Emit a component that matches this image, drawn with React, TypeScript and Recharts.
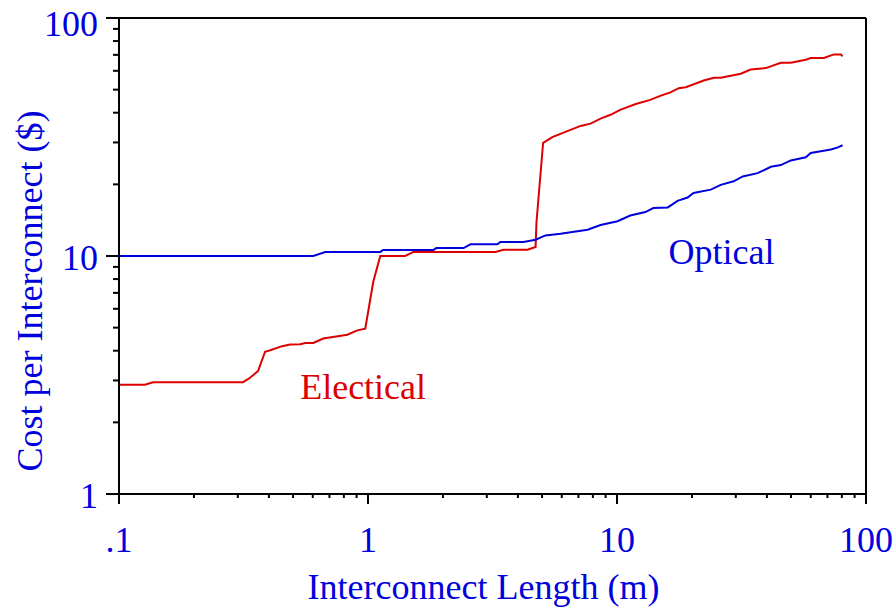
import React from 'react';
import { LineChart, Line, XAxis, YAxis, ReferenceLine, ReferenceDot, Label } from 'recharts';

// Axis ticks (log-log)
const xMajorTicks = [0.1, 1, 10, 100];
const xTickLabels = ['.1', '1', '10', '100'];
const xMinorTicks = [0.2, 0.3, 0.4, 0.5, 0.6, 0.7, 0.8, 0.9, 2, 3, 4, 5, 6, 7, 8, 9, 20, 30, 40, 50, 60, 70, 80, 90];
const yMajorTicks = [1, 10, 100];
const yTickLabels = ['1', '10', '100'];
const yMinorTicks = [2, 3, 4, 5, 6, 7, 8, 9, 20, 30, 40, 50, 60, 70, 80, 90];

// Electrical interconnect: length (m) and cost ($)
const electricalLength = [
  0.1, 0.127, 0.137, 0.315, 0.336, 0.362, 0.386, 0.405, 0.452, 0.487, 0.534, 0.56, 0.603, 0.661, 0.826,
  0.906, 0.975, 1.05, 1.12, 1.41, 1.52, 3.25, 3.5, 4.37, 4.71, 4.75, 5.05, 5.5, 6.1, 7.14, 7.83, 8.59,
  9.42, 10.3, 11.9, 13.6, 15.0, 16.4, 17.7, 18.9, 22.3, 24.5, 26.1, 31.4, 34.4, 39.6, 45.5, 49.9, 57.3,
  60.0, 67.8, 74.3, 79.3, 80.5,
];
const electricalCost = [
  2.88, 2.88, 2.95, 2.95, 3.08, 3.29, 3.96, 4.02, 4.18, 4.25, 4.26, 4.31, 4.31, 4.5, 4.67,
  4.87, 4.95, 7.79, 10.0, 10.0, 10.4, 10.4, 10.63, 10.63, 10.92, 13.9, 29.9, 31.6, 33.0, 35.2, 36.0, 37.8,
  39.2, 41.1, 43.5, 45.3, 47.2, 48.7, 50.7, 51.2, 54.6, 56.1, 56.1, 58.3, 60.7, 61.6, 64.9, 64.9, 66.8,
  67.9, 67.9, 70.3, 70.3, 69.0,
];

// Optical interconnect: length (m) and cost ($)
const opticalLength = [
  0.1, 0.603, 0.674, 1.12, 1.15, 1.83, 1.88, 2.42, 2.58, 3.31, 3.4, 4.21, 4.71, 5.16, 5.93, 7.62, 8.59,
  10.05, 11.3, 13.0, 14.0, 16.0, 17.5, 19.2, 20.3, 23.8, 26.1, 29.4, 32.0, 36.7, 41.5, 45.5, 49.9, 57.3,
  60.0, 72.3, 77.1, 80.5,
];
const opticalCost = [
  10.0, 10.0, 10.4, 10.4, 10.6, 10.6, 10.8, 10.8, 11.2, 11.2, 11.46, 11.46, 11.7, 12.2, 12.4, 12.9, 13.5,
  14.0, 14.8, 15.3, 15.9, 16.0, 17.05, 17.6, 18.4, 19.0, 19.9, 20.6, 21.6, 22.3, 23.7, 24.1, 25.2, 26.0,
  27.1, 28.0, 28.6, 29.2,
];

const electricalData = electricalLength.map((length, i) => ({ length, cost: electricalCost[i] }));
const opticalData = opticalLength.map((length, i) => ({ length, cost: opticalCost[i] }));

const RED = '#DD0000';
const BLUE = '#0000DD';
const FONT = '"Liberation Serif", "Times New Roman", serif';

const XTick = (props: any) => {
  const { x, y, payload } = props;
  const idx = xMajorTicks.indexOf(payload.value);
  const major = idx >= 0;
  return (
    <g>
      <line x1={x} y1={y} x2={x} y2={y + (major ? 10 : 4)} stroke="#000" strokeWidth={2} />
      {major && (
        <text x={x} y={y + 58} textAnchor="middle" fill={BLUE} fontSize={36} fontFamily={FONT}>
          {xTickLabels[idx]}
        </text>
      )}
    </g>
  );
};

const YTick = (props: any) => {
  const { x, y, payload } = props;
  const idx = yMajorTicks.indexOf(payload.value);
  const major = idx >= 0;
  return (
    <g>
      <line x1={x} y1={y} x2={x - (major ? 13 : 6)} y2={y} stroke="#000" strokeWidth={2} />
      {major && (
        <text
          x={x - 21}
          y={y + (payload.value === 100 ? 18 : 14)}
          textAnchor="end"
          fill={BLUE}
          fontSize={36}
          fontFamily={FONT}
        >
          {yTickLabels[idx]}
        </text>
      )}
    </g>
  );
};

const XTitle = (props: any) => {
  const { viewBox } = props;
  return (
    <text
      x={viewBox.x + viewBox.width / 2 - 9}
      y={viewBox.y + 105}
      textAnchor="middle"
      fill={BLUE}
      fontSize={36}
      fontFamily={FONT}
    >
      Interconnect Length (m)
    </text>
  );
};

const YTitle = (props: any) => {
  const { viewBox } = props;
  const cx = viewBox.x + 42;
  const cy = viewBox.y + viewBox.height / 2 + 35;
  return (
    <text
      x={cx}
      y={cy}
      transform={`rotate(-90, ${cx}, ${cy})`}
      textAnchor="middle"
      fill={BLUE}
      fontSize={36}
      fontFamily={FONT}
    >
      Cost per Interconnect ($)
    </text>
  );
};

const seriesLabel = (text: string, color: string) => (props: any) => {
  const { viewBox } = props;
  return (
    <text x={viewBox.x} y={viewBox.y} fill={color} fontSize={36} fontFamily={FONT}>
      {text}
    </text>
  );
};

export default function App() {
  return (
    <div style={{ position: 'absolute', left: 0, top: 0, width: 896, height: 608, background: '#fff' }}>
      <LineChart width={896} height={608} margin={{ top: 18, right: 30, bottom: 0, left: 0 }}>
        <XAxis
          dataKey="length"
          type="number"
          scale="log"
          domain={[0.1, 100]}
          allowDataOverflow
          ticks={[...xMajorTicks, ...xMinorTicks]}
          interval={0}
          height={114}
          tickLine={false}
          tickSize={0}
          tickMargin={0}
          tick={<XTick />}
          axisLine={{ stroke: '#000', strokeWidth: 2 }}
        >
          <Label content={<XTitle />} />
        </XAxis>
        <YAxis
          dataKey="cost"
          type="number"
          scale="log"
          domain={[1, 100]}
          allowDataOverflow
          ticks={[...yMajorTicks, ...yMinorTicks]}
          interval={0}
          width={119}
          tickLine={false}
          tickSize={0}
          tickMargin={0}
          tick={<YTick />}
          axisLine={{ stroke: '#000', strokeWidth: 2 }}
        >
          <Label content={<YTitle />} />
        </YAxis>
        <ReferenceLine y={100} stroke="#000" strokeWidth={2} />
        <ReferenceLine x={100} stroke="#000" strokeWidth={2} />
        <Line
          data={electricalData}
          dataKey="cost"
          type="linear"
          stroke={RED}
          strokeWidth={2}
          dot={false}
          isAnimationActive={false}
        />
        <Line
          data={opticalData}
          dataKey="cost"
          type="linear"
          stroke={BLUE}
          strokeWidth={2}
          dot={false}
          isAnimationActive={false}
        />
        <ReferenceDot x={0.534} y={2.51} r={0} fill="none" stroke="none" label={{ content: seriesLabel('Electical', RED) } as any} />
        <ReferenceDot x={16.1} y={9.26} r={0} fill="none" stroke="none" label={{ content: seriesLabel('Optical', BLUE) } as any} />
      </LineChart>
    </div>
  );
}
